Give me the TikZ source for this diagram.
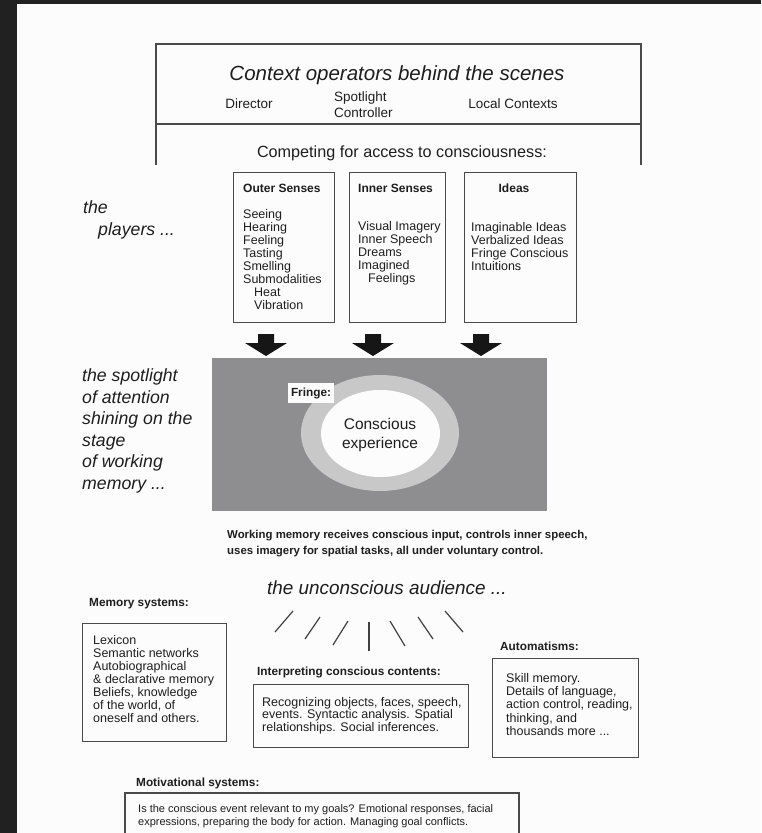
\documentclass[tikz,border=0pt]{standalone}
\usepackage{fontspec}
\setmainfont{Liberation Sans}
\newcommand\myfs[2]{\fontsize{#1}{#2}\selectfont}
\definecolor{bgdark}{HTML}{212121}
\definecolor{paper}{HTML}{FCFCFC}
\definecolor{ink}{HTML}{1E1E1E}
\definecolor{linec}{HTML}{4A4A4A}
\definecolor{stagec}{HTML}{8E8E90}
\definecolor{fringec}{HTML}{C8C8C8}
\definecolor{arrowc}{HTML}{161616}
\begin{document}
\begin{tikzpicture}[x=1pt,y=-1pt,
  every node/.style={inner sep=0pt, text=ink},
  frame/.style={draw=linec, line width=1.3pt},
  boxnode/.style={frame, anchor=north west},
  lbl/.style={anchor=west, font=\myfs{11.8}{14}\bfseries},
  body/.style={anchor=west, align=left, font=\myfs{12.5}{13}},
  head/.style={font=\myfs{12}{14}\bfseries},
  side/.style={anchor=west, align=left, font=\myfs{17.7}{21.6}\itshape},
  slash/.style={draw=ink!85, line width=1.2pt}]
\useasboundingbox (0,0) rectangle (761,833);
\fill[bgdark] (0,0) rectangle (761,833);
\fill[paper] (17,4) rectangle (761,833);

% top context box (open at bottom)
\draw[frame] (156,165) -- (156,44) -- (641,44) -- (641,165);
\draw[frame] (156,124) -- (641,124);
\node[anchor=base, font=\myfs{20.5}{24}\itshape] (ctx) at (397,80) {Context operators behind the scenes};
\node[anchor=base, font=\myfs{13.5}{16}] (dir) at (249,108) {Director};
\node[anchor=west, align=left, font=\myfs{13.5}{16}] (spot) at (334,105) {Spotlight\\Controller};
\node[anchor=base, font=\myfs{13.5}{16}] (loc) at (513,108) {Local Contexts};
\node[anchor=base, font=\myfs{16.2}{19}] (comp) at (402,157) {Competing for access to consciousness:};

% players
\node[side] (players) at (83,220) {the\\\hspace*{15pt}players ...};
\node[boxnode, minimum width=101pt, minimum height=150pt] (outer) at (233,172) {};
\node[boxnode, minimum width=96pt, minimum height=150pt] (inner) at (349,172) {};
\node[boxnode, minimum width=112pt, minimum height=150pt] (ideas) at (464,172) {};
\node[head, anchor=base west] (outerh) at (243,192) {Outer Senses};
\node[head, anchor=base west] (innerh) at (358,192) {Inner Senses};
\node[head, anchor=base] (ideash) at (514,192) {Ideas};
\node[body] (outerb) at (243,259.5) {Seeing\\Hearing\\Feeling\\Tasting\\Smelling\\Submodalities\\\hspace*{11pt}Heat\\\hspace*{11pt}Vibration};
\node[body] (innerb) at (358,253.5) {Visual Imagery\\Inner Speech\\Dreams\\Imagined\\\hspace*{10pt}Feelings};
\node[body] (ideasb) at (471,247) {Imaginable Ideas\\Verbalized Ideas\\Fringe Conscious\\Intuitions};

% arrows
\foreach \cx in {266,373,481}{
  \fill[arrowc] ({\cx-8},334) -- ({\cx+8},334) -- ({\cx+8},343) -- ({\cx+21},343)
     -- (\cx,356) -- ({\cx-21},343) -- ({\cx-8},343) -- cycle;
}

% stage
\node[side] (spotl) at (82,431) {the spotlight\\of attention\\shining on the\\stage\\of working\\memory ...};
\fill[stagec] (212,358) rectangle (547,511);
\fill[fringec] (380,433) ellipse [x radius=79pt, y radius=58pt];
\fill[paper] (380.5,433.5) ellipse [x radius=59.5pt, y radius=43.5pt];
\node[fill=paper, minimum width=46pt, minimum height=20pt, font=\myfs{11.8}{14}\bfseries] (fringe) at (311,393) {Fringe:};
\node[align=center, font=\myfs{15.5}{19}] (consc) at (380,435) {Conscious\\experience};

\node[anchor=west, align=left, font=\myfs{11.4}{16}\bfseries] (wm) at (227,544) {Working memory receives conscious input, controls inner speech,\\uses imagery for spatial tasks, all under voluntary control.};

% audience
\node[anchor=west, font=\myfs{18.9}{22}\itshape] (aud) at (267,588) {the unconscious audience ...};
\draw[slash] (275,632) -- (293,611);
\draw[slash] (305,639) -- (320,617);
\draw[slash] (333,645) -- (348,621);
\draw[slash] (369,651) -- (369,622);
\draw[slash] (405,646) -- (390,621);
\draw[slash] (433,639) -- (418,617);
\draw[slash] (463,632) -- (445,611);

% memory systems
\node[lbl] (meml) at (89,604) {Memory systems:};
\node[boxnode, minimum width=144pt, minimum height=118pt] (memb) at (82,623) {};
\node[body] (memt) at (93,679) {Lexicon\\Semantic networks\\Autobiographical\\\& declarative memory\\Beliefs, knowledge\\of the world, of\\oneself and others.};

% interpreting
\node[lbl] (intl) at (257,672) {Interpreting conscious contents:};
\node[boxnode, minimum width=215pt, minimum height=63pt] (intb) at (253,684) {};
\node[anchor=west, align=left, font=\myfs{12.5}{12.7}] (intt) at (262,715.5) {Recognizing objects, faces, speech,\\events. Syntactic analysis. Spatial\\relationships. Social inferences.};

% automatisms
\node[lbl] (autl) at (500,646) {Automatisms:};
\node[boxnode, minimum width=146pt, minimum height=99pt] (autb) at (492,658) {};
\node[anchor=west, align=left, font=\myfs{12.5}{13.1}] (autt) at (506,704.5) {Skill memory.\\Details of language,\\action control, reading,\\thinking, and\\thousands more ...};

% motivational
\node[lbl] (motl) at (136,783) {Motivational systems:};
\draw[frame] (125,833) -- (125,793) -- (519,793) -- (519,833);
\node[anchor=west, align=left, font=\myfs{11}{13}] (mott) at (138,816.5) {Is the conscious event relevant to my goals? Emotional responses, facial\\expressions, preparing the body for action. Managing goal conflicts.};
\end{tikzpicture}
\end{document}
